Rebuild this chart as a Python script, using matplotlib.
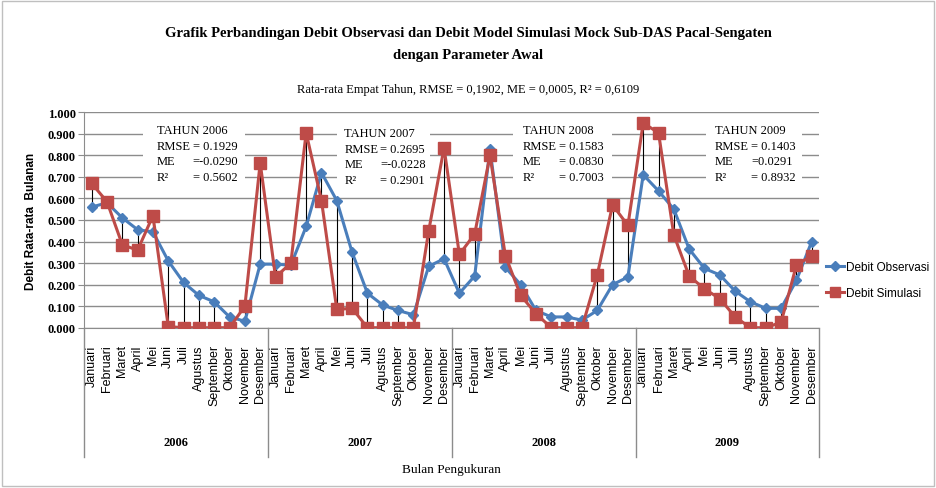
import numpy as np
import matplotlib
matplotlib.use('Agg')
import matplotlib.pyplot as plt
from matplotlib.lines import Line2D
from matplotlib.patches import Rectangle

years = ['2006', '2007', '2008', '2009']
months = ['Januari', 'Februari', 'Maret', 'April', 'Mei', 'Juni', 'Juli',
          'Agustus', 'September', 'Oktober', 'November', 'Desember']

# monthly mean discharge, Jan 2006 .. Dec 2009
debit_obs = [0.560, 0.580, 0.510, 0.455, 0.445, 0.310, 0.210, 0.150, 0.120, 0.050, 0.030, 0.295,
             0.295, 0.290, 0.470, 0.720, 0.590, 0.350, 0.160, 0.105, 0.080, 0.060, 0.285, 0.320,
             0.160, 0.240, 0.830, 0.280, 0.200, 0.080, 0.050, 0.050, 0.035, 0.080, 0.200, 0.235,
             0.710, 0.635, 0.550, 0.365, 0.275, 0.245, 0.170, 0.120, 0.090, 0.090, 0.220, 0.400]
debit_sim = [0.670, 0.585, 0.385, 0.360, 0.520, 0.005, 0.000, 0.000, 0.000, 0.000, 0.100, 0.765,
             0.235, 0.300, 0.905, 0.590, 0.085, 0.090, 0.000, 0.000, 0.000, 0.000, 0.450, 0.835,
             0.340, 0.435, 0.800, 0.335, 0.150, 0.065, 0.000, 0.000, 0.000, 0.245, 0.570, 0.475,
             0.950, 0.905, 0.430, 0.240, 0.180, 0.135, 0.050, 0.000, 0.000, 0.025, 0.290, 0.335]

# yearly statistics: RMSE, ME, R2
stat_rmse = ['0.1929', '0.2695', '0.1583', '0.1403']
stat_me = ['-0.0290', '-0.0228', ' 0.0830', '0.0291']
stat_r2 = ['0.5602', '0.2901', '0.7003', '0.8932']

serif = 'Liberation Serif'
sans = 'Liberation Sans'
blue = '#4A7EBB'
red = '#BE4B48'
grid_c = '#8C8C8C'

W, H = 936, 489
fig = plt.figure(figsize=(W/100, H/100), dpi=100)
x0, x1, ytop, ybot = 84, 819.4, 113.3, 328.7
ax = fig.add_axes([x0/W, 1-ybot/H, (x1-x0)/W, (ybot-ytop)/H])

x = np.arange(len(debit_obs))
obs = np.array(debit_obs)
sim = np.array(debit_sim)

ax.vlines(x, np.minimum(obs, sim), np.maximum(obs, sim), color='black', lw=0.8, zorder=2)
ax.plot(x, obs, color=blue, lw=2.2, marker='D', ms=5.5, mfc=blue, mec=blue, zorder=3)
ax.plot(x, sim, color=red, lw=2.2, marker='s', ms=8, mfc=red, mec=red, zorder=4)

ax.set_xlim(-0.5, len(x)-0.5)
ax.set_ylim(0, 1.0)
ax.set_yticks(np.arange(0, 1.01, 0.1))
ax.set_yticklabels([f'{v:.3f}' for v in np.arange(0, 1.01, 0.1)],
                   fontfamily=serif, fontweight='bold', fontsize=9)
ax.yaxis.grid(True, color=grid_c, lw=1)
ax.set_axisbelow(True)
for s in ['top', 'right']:
    ax.spines[s].set_visible(False)
for s in ['left', 'bottom']:
    ax.spines[s].set_color(grid_c)
ax.tick_params(axis='y', length=4, color=grid_c, pad=2)

ax.set_xticks(x)
ax.set_xticklabels(months*len(years), rotation=90, fontfamily=sans, fontsize=9)
ax.tick_params(axis='x', length=0, pad=12)

# year groups under the month labels
tr = ax.get_xaxis_transform()
for b in np.arange(-0.5, len(x), 12):
    ax.plot([b, b], [0, -0.6], transform=tr, color=grid_c, lw=1, clip_on=False)
for i, yr in enumerate(years):
    ax.text(i*12+5.5, -0.531, yr, transform=tr, ha='center', va='center',
            fontfamily=serif, fontweight='bold', fontsize=9)

ax.text(0.5, -0.657, 'Bulan Pengukuran', transform=ax.transAxes, ha='center', va='center',
        fontfamily=serif, fontsize=9.5)
ax.set_ylabel('Debit Rata-rata  Bulanan', fontfamily=sans, fontweight='bold', fontsize=8.5,
              labelpad=8)

# statistics boxes
box_l = [0.080, 0.344, 0.583, 0.846]
box_r = [0.219, 0.470, 0.718, 0.976]
txt_l = [0.099, 0.354, 0.597, 0.858]
dy = [0, -0.014, 0, 0]
for i in range(4):
    ax.add_patch(Rectangle((box_l[i], 0.644+dy[i]), box_r[i]-box_l[i], 0.334,
                           transform=ax.transAxes, fc='white', ec='none', zorder=5))
    rows = [('TAHUN ' + years[i], None), ('RMSE', '= ' + stat_rmse[i]),
            ('ME', '=' + stat_me[i]), ('R²', '= ' + stat_r2[i])]
    for k, (lab, val) in enumerate(rows):
        yy = [0.918, 0.843, 0.774, 0.700][k] + dy[i]
        ax.text(txt_l[i], yy, lab, transform=ax.transAxes, ha='left', va='center',
                fontfamily=serif, fontsize=9, zorder=6)
        if val is not None:
            ax.text(txt_l[i]+0.049, yy, val, transform=ax.transAxes, ha='left', va='center',
                    fontfamily=serif, fontsize=9, zorder=6)

fig.text(0.5, 1-33/H, 'Grafik Perbandingan Debit Observasi dan Debit Model Simulasi Mock Sub-DAS Pacal-Sengaten',
         ha='center', va='center', fontfamily=serif, fontweight='bold', fontsize=10.5)
fig.text(0.5, 1-55/H, 'dengan Parameter Awal', ha='center', va='center',
         fontfamily=serif, fontweight='bold', fontsize=10.5)
fig.text(0.5, 1-90/H, 'Rata-rata Empat Tahun, RMSE = 0,1902, ME = 0,0005, R² = 0,6109',
         ha='center', va='center', fontfamily=serif, fontsize=9)

handles = [Line2D([0], [0], color=blue, lw=2.2, marker='D', ms=5, label='Debit Observasi'),
           Line2D([0], [0], color=red, lw=2.2, marker='s', ms=7, label='Debit Simulasi')]
fig.legend(handles=handles, loc='center left', bbox_to_anchor=(826/W, 1-281/H), frameon=False,
           prop={'family': sans, 'size': 8.5}, handlelength=1.5, handletextpad=0.2,
           labelspacing=1.2, borderpad=0, borderaxespad=0)

fig.add_artist(Rectangle((2/W, 2/H), 1-4/W, 1-4/H, transform=fig.transFigure,
                         fill=False, ec='#BFBFBF', lw=1))

fig.savefig('out.png', dpi=100)
